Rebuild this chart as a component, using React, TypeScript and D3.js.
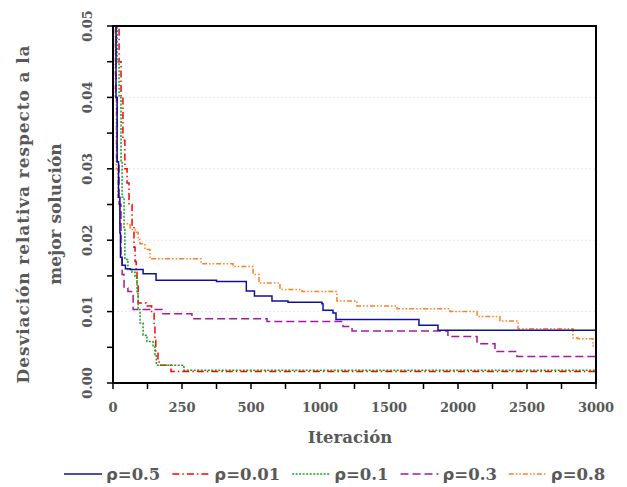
import React, { useEffect, useRef } from 'react';
import * as d3 from 'd3';

// x axis is piecewise: labels evenly spaced
const xTickValues = [0, 250, 500, 1000, 1500, 2000, 2500, 3000];
const yTickValues = [0, 0.01, 0.02, 0.03, 0.04, 0.05];

// [iteracion, desviacion]
const rho05 = [
  [0, 0.065], [5, 0.05], [11, 0.04], [15, 0.031], [20, 0.026], [25, 0.021], [27, 0.0176],
  [33, 0.0165], [45, 0.016], [62, 0.0159], [109, 0.0153], [156, 0.0144], [375, 0.0142],
  [483, 0.0129], [525, 0.0122], [652, 0.0115], [768, 0.0113], [1014, 0.0111], [1022, 0.0102],
  [1094, 0.0098], [1116, 0.0089], [1717, 0.0081], [1855, 0.0074], [3000, 0.0074],
];
const rho001 = [
  [0, 0.065], [10, 0.05], [22, 0.045], [29, 0.04], [36, 0.034], [43, 0.03], [51, 0.028],
  [58, 0.025], [69, 0.022], [76, 0.019], [80, 0.017], [84, 0.0155], [87, 0.014], [91, 0.0112],
  [120, 0.0108], [140, 0.01], [149, 0.008], [152, 0.006], [155, 0.0045], [163, 0.0032],
  [167, 0.0025], [210, 0.0016], [3000, 0.0016],
];
const rho01 = [
  [0, 0.065], [8, 0.05], [15, 0.045], [22, 0.04], [29, 0.031], [33, 0.026], [40, 0.0215],
  [43, 0.0173], [54, 0.0159], [69, 0.0155], [80, 0.0149], [87, 0.0125], [91, 0.0103],
  [98, 0.0084], [109, 0.0067], [123, 0.0058], [145, 0.0051], [152, 0.004], [157, 0.0025],
  [257, 0.0018], [3000, 0.0018],
];
const rho03 = [
  [0, 0.065], [5, 0.05], [11, 0.04], [15, 0.031], [22, 0.025], [29, 0.018], [33, 0.0152],
  [40, 0.0133], [54, 0.0128], [73, 0.0103], [178, 0.0097], [286, 0.009], [616, 0.0086],
  [1167, 0.0079], [1232, 0.0073], [1927, 0.0065], [2138, 0.0055], [2268, 0.0044],
  [2427, 0.0037], [3000, 0.0037],
];
const rho08 = [
  [0, 0.065], [4, 0.05], [8, 0.04], [12, 0.03], [18, 0.026], [25, 0.0223], [62, 0.0215],
  [80, 0.0211], [91, 0.0201], [98, 0.0195], [116, 0.0187], [134, 0.0174], [319, 0.0167],
  [435, 0.0163], [515, 0.0152], [558, 0.014], [710, 0.0131], [870, 0.0128], [1123, 0.0115],
  [1268, 0.0108], [1558, 0.0104], [1942, 0.01], [2138, 0.0093], [2304, 0.0087],
  [2435, 0.0076], [2833, 0.0063], [2870, 0.0062], [2978, 0.0052], [3000, 0.0052],
];

const seriesNames = ['ρ=0.5', 'ρ=0.01', 'ρ=0.1', 'ρ=0.3', 'ρ=0.8'];
const seriesData = [rho05, rho001, rho01, rho03, rho08];
const seriesColors = ['#10109c', '#ff0000', '#1e9e1e', '#a41aa4', '#ff8020'];
const seriesDashes = ['', '7,3,1.5,3', '2,1.5', '8,4', '5,2,1.5,2,1.5,2'];
const drawOrder = [1, 2, 4, 3, 0];

const W = 627;
const H = 487;
const FONT = '"DejaVu Serif", serif';
const GREY = '#595959';

const App = () => {
  const svgRef = useRef(null);

  useEffect(() => {
    const svg = d3.select(svgRef.current);
    svg.selectAll('*').remove();

    const left = 113, right = 596, top = 26, bottom = 383;
    const step = (right - left) / (xTickValues.length - 1);
    const x = d3.scaleLinear()
      .domain(xTickValues)
      .range(xTickValues.map((d, i) => left + i * step));
    const y = d3.scaleLinear().domain([0, 0.05]).range([bottom, top]);

    svg.append('rect').attr('width', W).attr('height', H).attr('fill', '#fff');

    // grid
    svg.append('g')
      .selectAll('line')
      .data(yTickValues.slice(1, -1))
      .enter()
      .append('line')
      .attr('x1', left).attr('x2', right)
      .attr('y1', d => y(d)).attr('y2', d => y(d))
      .attr('stroke', '#e8e8e8')
      .attr('stroke-dasharray', '2,2');

    svg.append('clipPath').attr('id', 'plot-clip')
      .append('rect')
      .attr('x', left).attr('y', top)
      .attr('width', right - left).attr('height', bottom - top);

    const line = d3.line()
      .x(d => x(d[0]))
      .y(d => y(d[1]))
      .curve(d3.curveStepAfter);

    const lines = svg.append('g').attr('clip-path', 'url(#plot-clip)');
    drawOrder.forEach(i => {
      lines.append('path')
        .attr('d', line(seriesData[i]))
        .attr('fill', 'none')
        .attr('stroke', seriesColors[i])
        .attr('stroke-width', 1.5)
        .attr('stroke-dasharray', seriesDashes[i] || null);
    });

    // frame
    svg.append('rect')
      .attr('x', left).attr('y', top)
      .attr('width', right - left).attr('height', bottom - top)
      .attr('fill', 'none')
      .attr('stroke', '#000')
      .attr('stroke-width', 2);

    // x ticks (labels + half-way minors)
    const xMinor = xTickValues.slice(1).map((d, i) => (d + xTickValues[i]) / 2);
    svg.append('g')
      .selectAll('line')
      .data(xTickValues.concat(xMinor))
      .enter()
      .append('line')
      .attr('x1', d => x(d)).attr('x2', d => x(d))
      .attr('y1', bottom).attr('y2', bottom + 6)
      .attr('stroke', '#000')
      .attr('stroke-width', 1.5);

    svg.append('g')
      .selectAll('text')
      .data(xTickValues)
      .enter()
      .append('text')
      .attr('x', d => x(d))
      .attr('y', 412)
      .attr('text-anchor', 'middle')
      .style('font-family', FONT)
      .style('font-weight', 'bold')
      .style('font-size', '13px')
      .attr('fill', GREY)
      .text(d => d);

    // y ticks every 0.005
    svg.append('g')
      .selectAll('line')
      .data(d3.range(0, 11).map(i => i * 0.005))
      .enter()
      .append('line')
      .attr('x1', left - 6).attr('x2', left)
      .attr('y1', d => y(d)).attr('y2', d => y(d))
      .attr('stroke', '#000')
      .attr('stroke-width', 1.5);

    svg.append('g')
      .selectAll('text')
      .data(yTickValues)
      .enter()
      .append('text')
      .attr('transform', d => `translate(92,${y(d)}) rotate(-90)`)
      .attr('text-anchor', 'middle')
      .style('font-family', FONT)
      .style('font-weight', 'bold')
      .style('font-size', '13px')
      .attr('fill', GREY)
      .text(d => d3.format('.2f')(d));

    // axis titles
    svg.append('text')
      .attr('x', 350).attr('y', 443)
      .attr('text-anchor', 'middle')
      .style('font-family', FONT)
      .style('font-weight', 'bold')
      .style('font-size', '16.5px')
      .attr('fill', GREY)
      .text('Iteración');

    const yTitle = svg.append('text')
      .attr('transform', 'translate(0,214) rotate(-90)')
      .attr('text-anchor', 'middle')
      .style('font-family', FONT)
      .style('font-weight', 'bold')
      .style('font-size', '17px')
      .attr('fill', GREY);
    yTitle.append('tspan').attr('x', 0).attr('y', 29)
      .style('letter-spacing', '0.9px')
      .text('Desviación relativa respecto a la');
    yTitle.append('tspan').attr('x', 0).attr('y', 61).text('mejor solución');

    // legend
    const legend = svg.append('g');
    let lx = 64;
    const ly = 474;
    seriesNames.forEach((name, i) => {
      legend.append('line')
        .attr('x1', lx).attr('x2', lx + 38)
        .attr('y1', ly).attr('y2', ly)
        .attr('stroke', seriesColors[i])
        .attr('stroke-width', 1.5)
        .attr('stroke-dasharray', seriesDashes[i] || null);
      const t = legend.append('text')
        .attr('x', lx + 42).attr('y', ly + 6)
        .style('font-family', FONT)
        .style('font-weight', 'bold')
        .style('font-size', '16.5px')
        .attr('fill', GREY);
      t.append('tspan').style('font-family', '"DejaVu Sans", sans-serif').text(name.slice(0, 1));
      t.append('tspan').text(name.slice(1));
      const tw = t.node().getComputedTextLength();
      lx += 42 + tw + 12;
    });
  }, []);

  return (
    <svg
      ref={svgRef}
      width={W}
      height={H}
      style={{ position: 'absolute', left: 0, top: 0 }}
    />
  );
};

export default App;
